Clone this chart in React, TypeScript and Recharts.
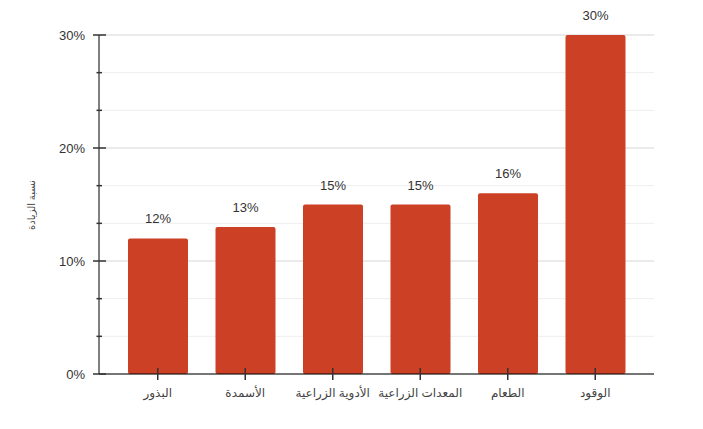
import React from "react";
import { BarChart, Bar, XAxis, YAxis, CartesianGrid, LabelList } from "recharts";

const categories = ["البذور", "الأسمدة", "الأدوية الزراعية", "المعدات الزراعية", "الطعام", "الوقود"];
const increase = [12, 13, 15, 15, 16, 30];
const yTicks = [0, 3.333, 6.667, 10, 13.333, 16.667, 20, 23.333, 26.667, 30];

const data = categories.map((name, i) => ({ name, value: increase[i] }));

const FONT = "'Liberation Sans', Arial, 'DejaVu Sans', sans-serif";

const isMajor = (v: number) => Math.abs(v - Math.round(v / 10) * 10) < 0.01;

const YTick = (props: any) => {
	const { x, y, payload } = props;
	const v = payload.value;
	return (
		<g>
			{isMajor(v) ? (
				<>
					<line x1={x - 6} x2={x + 7} y1={y} y2={y} stroke="#333" strokeWidth={1.5} />
					<text x={x - 14} y={y + 5} textAnchor="end" fontSize={13} fill="#333" fontFamily={FONT}>
						{Math.round(v)}%
					</text>
				</>
			) : (
				<line x1={x - 2.5} x2={x + 3} y1={y} y2={y} stroke="#333" strokeWidth={1.5} />
			)}
		</g>
	);
};

const XTick = (props: any) => {
	const { x, y, payload } = props;
	return (
		<g>
			<line x1={x} x2={x} y1={y - 6} y2={y + 6} stroke="#333" strokeWidth={1.5} />
			<text x={x} y={y + 23} textAnchor="middle" fontSize={12} fill="#444" fontFamily={FONT}>
				{payload.value}
			</text>
		</g>
	);
};

const GridLine = (props: any) => {
	const { x1, x2, y1, y2, index } = props;
	const major = index % 3 === 0;
	return <line x1={x1} x2={x2} y1={y1} y2={y2} stroke={major ? "#d6d6d6" : "#eeeeee"} strokeWidth={1} />;
};

const App = () => {
	return (
		<div style={{ position: "absolute", left: 0, top: 0, background: "#fff" }}>
			<BarChart
				width={703}
				height={429}
				data={data}
				margin={{ top: 35, right: 49, left: 0, bottom: 25 }}
				barCategoryGap="16%"
			>
				<CartesianGrid vertical={false} horizontal={(p: any) => <GridLine key={p.index} {...p} />} />
				<XAxis
					dataKey="name"
					height={30}
					tickSize={0}
					tickMargin={0}
					tickLine={false}
					tick={<XTick />}
					stroke="#000"
					interval={0}
					padding={{ left: 15, right: 15 }}
				/>
				<YAxis
					width={99}
					domain={[0, 30]}
					ticks={yTicks}
					interval={0}
					tickSize={0}
					tickMargin={0}
					tickLine={false}
					tick={<YTick />}
					stroke="#000"
					label={{
						content: () => (
							<text
								x={35}
								y={205}
								transform="rotate(-90 35 205)"
								textAnchor="middle"
								fontSize={10}
								fill="#444"
								fontFamily={FONT}
							>
								نسبة الزيادة
							</text>
						),
					}}
				/>
				<Bar dataKey="value" fill="#CC4125" radius={[2, 2, 2, 2]} isAnimationActive={false}>
					<LabelList
						dataKey="value"
						position="top"
						offset={15}
						formatter={(v: any) => `${v}%`}
						fontSize={13}
						fill="#333"
						fontFamily={FONT}
					/>
				</Bar>
			</BarChart>
		</div>
	);
};

export default App;
